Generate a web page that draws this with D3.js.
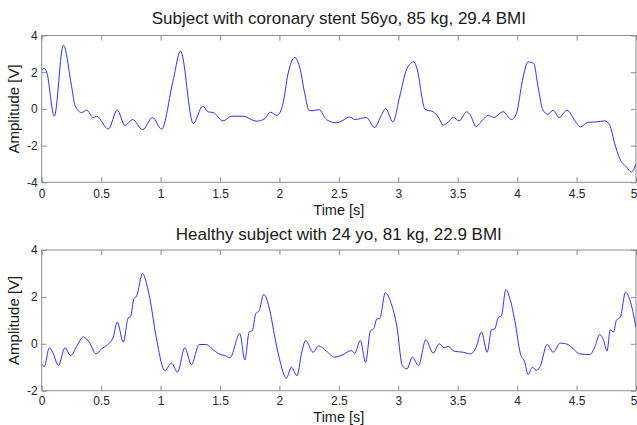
<!DOCTYPE html>
<html>
<head>
<meta charset="utf-8">
<script src="https://cdn.jsdelivr.net/npm/d3@7"></script>
<style>
  html, body { margin: 0; padding: 0; background: #fff; }
  svg { display: block; font-family: "Liberation Sans", Arial, sans-serif; }
  .tick text { fill: #262626; font-size: 12px; }
  .tick line { stroke: #8c8c8c; }
</style>
</head>
<body>
<svg id="chart" width="637" height="425"></svg>
<script>
// Subject with coronary stent: time [s] and amplitude [V]
const stentTime = [0.000,0.022,0.042,0.106,0.182,0.252,0.280,0.336,0.378,0.434,0.462,0.560,0.636,0.700,0.765,0.849,0.933,1.008,1.106,1.168,1.275,1.355,1.400,1.443,1.527,1.597,1.695,1.807,1.877,1.924,1.980,2.030,2.073,2.129,2.170,2.213,2.249,2.280,2.333,2.395,2.479,2.535,2.591,2.633,2.731,2.801,2.857,2.894,2.955,3.011,3.073,3.129,3.165,3.200,3.224,3.294,3.336,3.378,3.420,3.462,3.513,3.574,3.608,3.653,3.714,3.756,3.804,3.882,3.952,3.994,4.045,4.092,4.140,4.176,4.218,4.260,4.302,4.353,4.420,4.484,4.532,4.597,4.667,4.737,4.779,4.821,4.863,4.919,4.961,5.000];
const stentAmp  = [2.10,2.20,2.00,-0.40,3.47,1.20,0.20,-0.20,-0.07,-0.47,-0.40,-1.10,-0.07,-0.90,-0.58,-1.13,-0.47,-1.10,1.56,3.15,-0.80,0.15,-0.16,-0.20,-0.65,-0.40,-0.40,-0.67,-0.53,-0.18,-0.35,0.29,1.93,2.80,2.29,0.84,-0.07,-0.10,-0.04,-0.58,-0.76,-0.62,-0.44,-0.58,-0.47,-1.02,-0.35,0.02,-0.71,0.65,2.20,2.56,2.00,0.60,-0.02,-0.16,-0.44,-0.89,-0.71,-0.47,-0.65,-0.16,-0.35,-0.95,-0.58,-0.35,-0.47,-0.15,-0.58,-0.25,1.56,2.56,2.47,1.20,-0.07,-0.29,-0.07,-0.47,-0.07,-0.62,-0.98,-0.73,-0.71,-0.65,-0.89,-1.89,-2.71,-3.16,-3.44,-3.00];

// Healthy subject: time [s] and amplitude [V]
const healthyTime = [0.000,0.022,0.064,0.098,0.140,0.196,0.244,0.294,0.350,0.400,0.457,0.504,0.546,0.602,0.636,0.686,0.728,0.748,0.776,0.798,0.849,0.882,0.910,0.966,1.036,1.092,1.143,1.204,1.260,1.325,1.387,1.443,1.513,1.541,1.583,1.667,1.709,1.745,1.773,1.801,1.829,1.868,1.919,1.961,1.997,2.059,2.101,2.148,2.185,2.221,2.283,2.331,2.395,2.465,2.535,2.605,2.633,2.681,2.725,2.765,2.793,2.821,2.843,2.891,2.941,2.989,3.034,3.073,3.118,3.170,3.232,3.294,3.345,3.384,3.420,3.468,3.546,3.608,3.653,3.700,3.748,3.784,3.812,3.840,3.868,3.905,3.939,3.980,4.028,4.064,4.092,4.129,4.162,4.196,4.252,4.303,4.364,4.429,4.471,4.527,4.611,4.653,4.695,4.728,4.756,4.784,4.812,4.835,4.868,4.913,4.947,5.000];
const healthyAmp  = [-0.86,-0.97,-0.17,-0.43,-0.93,-0.17,-0.50,-0.11,0.29,0.07,-0.43,-0.21,-0.07,0.29,0.93,0.07,1.11,1.17,1.93,2.03,3.00,2.57,1.93,0.21,-1.14,-0.83,-1.21,-0.17,-0.89,-0.03,-0.03,-0.26,-0.47,-0.50,-0.60,0.43,-0.69,0.50,0.57,1.29,1.40,2.11,1.43,0.29,-0.57,-1.46,-1.00,-1.36,-0.43,0.14,-0.36,-0.09,-0.31,-0.57,-0.46,-0.29,-0.40,0.14,-0.79,0.54,0.64,1.07,1.07,2.17,1.71,0.71,-0.93,-1.07,-0.57,-0.93,0.17,-0.40,0.00,-0.17,-0.11,-0.31,-0.36,-0.43,-0.17,0.50,-0.36,0.60,0.64,1.11,1.21,2.31,1.93,1.00,-0.43,-0.79,-1.31,-1.00,-1.14,-0.93,-0.03,-0.36,0.03,-0.03,-0.21,-0.43,-0.46,-0.14,0.40,0.14,-0.31,0.60,0.50,1.00,1.14,2.21,1.89,0.70];

const xTicks = [0,0.5,1,1.5,2,2.5,3,3.5,4,4.5,5];
const stentYTicks = [-4,-2,0,2,4];
const healthyYTicks = [-2,0,2,4];

const titles = [
  "Subject with coronary stent 56yo, 85 kg, 29.4 BMI",
  "Healthy subject with 24 yo, 81 kg, 22.9 BMI"
];

const svg = d3.select("#chart");
const left = 41.7, right = 636;

const panels = [
  { time: stentTime, amp: stentAmp, yDomain: [-4, 4], yTicks: stentYTicks,
    top: 35.5, bottom: 182.3, title: titles[0], titleY: 24, xLabelY: 215, pad: 7 },
  { time: healthyTime, amp: healthyAmp, yDomain: [-2, 4], yTicks: healthyYTicks,
    top: 250, bottom: 390.7, title: titles[1], titleY: 240, xLabelY: 422, pad: 6 }
];

const fmt = d => String(d);

panels.forEach((p, i) => {
  const x = d3.scaleLinear().domain([0, 5]).range([left, right]);
  const y = d3.scaleLinear().domain(p.yDomain).range([p.bottom, p.top]);
  const g = svg.append("g");

  const clipId = "clip" + i;
  svg.append("clipPath").attr("id", clipId)
    .append("rect").attr("x", left).attr("y", p.top)
    .attr("width", right - left).attr("height", p.bottom - p.top);

  // inward ticks on all four sides
  const xAxis = g.append("g").attr("transform", `translate(0,${p.bottom})`)
    .call(d3.axisBottom(x).tickValues(xTicks).tickFormat(fmt).tickSizeInner(-5).tickSizeOuter(0).tickPadding(p.pad))
    .call(a => a.select(".domain").remove());
  // keep the last label inside the canvas edge
  xAxis.selectAll(".tick text").filter(d => d === 5).attr("text-anchor", "end").attr("x", 1);
  g.append("g").attr("transform", `translate(0,${p.top})`)
    .call(d3.axisTop(x).tickValues(xTicks).tickFormat("").tickSizeInner(-5).tickSizeOuter(0))
    .call(a => a.select(".domain").remove());
  g.append("g").attr("transform", `translate(${left},0)`)
    .call(d3.axisLeft(y).tickValues(p.yTicks).tickFormat(fmt).tickSizeInner(-5).tickSizeOuter(0).tickPadding(4))
    .call(a => a.select(".domain").remove());
  g.append("g").attr("transform", `translate(${right},0)`)
    .call(d3.axisRight(y).tickValues(p.yTicks).tickFormat("").tickSizeInner(-5).tickSizeOuter(0))
    .call(a => a.select(".domain").remove());
  g.selectAll(".tick text").attr("font-family", null).attr("font-size", null);

  // plot box
  g.append("rect")
    .attr("x", left).attr("y", p.top)
    .attr("width", right - left).attr("height", p.bottom - p.top)
    .attr("fill", "none").attr("stroke", "#8c8c8c").attr("stroke-width", 1);

  // signal trace
  const line = d3.line()
    .x((d, k) => x(p.time[k]))
    .y((d, k) => y(p.amp[k]))
    .curve(d3.curveMonotoneX);
  g.append("path")
    .datum(p.amp)
    .attr("clip-path", `url(#${clipId})`)
    .attr("d", line)
    .attr("fill", "none")
    .attr("stroke", "#3030ff")
    .attr("stroke-width", 1);

  // title and axis labels
  g.append("text")
    .attr("x", (left + right) / 2).attr("y", p.titleY)
    .attr("text-anchor", "middle").attr("font-size", 17).attr("fill", "#1a1a1a")
    .text(p.title);
  g.append("text")
    .attr("x", (left + right) / 2).attr("y", p.xLabelY)
    .attr("text-anchor", "middle").attr("font-size", 14.5).attr("fill", "#1a1a1a")
    .text("Time [s]");
  g.append("text")
    .attr("transform", `translate(14,${(p.top + p.bottom) / 2}) rotate(-90)`)
    .attr("dy", "0.35em")
    .attr("text-anchor", "middle").attr("font-size", 15).attr("fill", "#1a1a1a")
    .text("Amplitude [V]");
});
</script>
</body>
</html>
